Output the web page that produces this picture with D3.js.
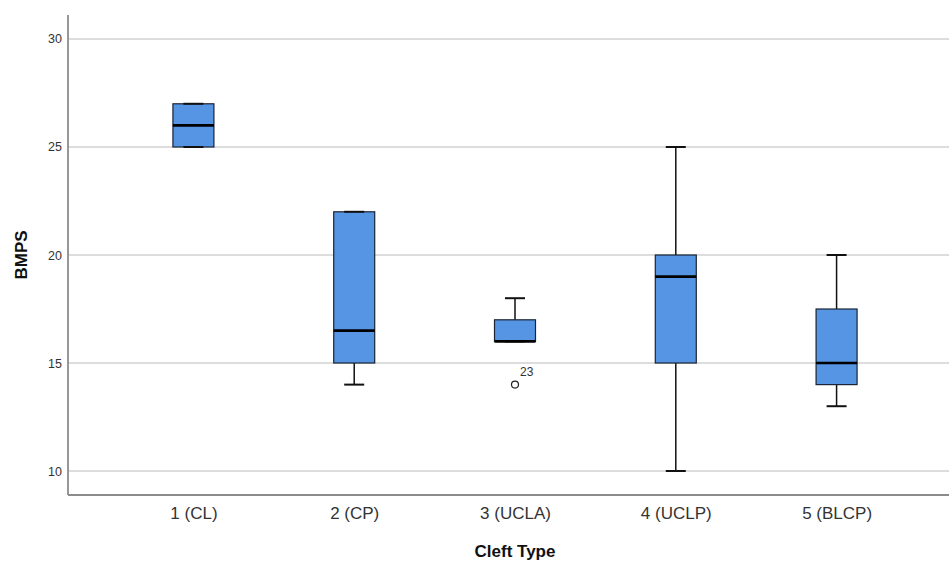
<!DOCTYPE html>
<html>
<head>
<meta charset="utf-8">
<script src="https://cdn.jsdelivr.net/npm/d3@7"></script>
<style>
  body { margin: 0; background: #fff; }
  svg { display: block; }
</style>
</head>
<body>
<svg id="chart" width="949" height="567"></svg>
<script>
// box plot summary per cleft type
const categories = ["1 (CL)", "2 (CP)", "3 (UCLA)", "4 (UCLP)", "5 (BLCP)"];
const whiskerLow  = [25, 14, 16, 10, 13];
const q1          = [25, 15, 16, 15, 14];
const medians     = [26, 16.5, 16, 19, 15];
const q3          = [27, 22, 17, 20, 17.5];
const whiskerHigh = [27, 22, 18, 25, 20];
const outlierCats   = ["3 (UCLA)"];
const outlierValues = [14];
const outlierLabels = ["23"];
const yTicks = [10, 15, 20, 25, 30];

let width = 949, height = 567,
  margin = {top: 15, right: 0, bottom: 72, left: 68},
  svg = d3.select('#chart');

let boxes = categories.map((c, i) => ({
  cat: c, lo: whiskerLow[i], q1: q1[i], med: medians[i], q3: q3[i], hi: whiskerHigh[i]
}));

var x = d3.scalePoint()
    .domain(categories)
    .range([margin.left, 962])
    .padding(0.78);

var y = d3.scaleLinear()
    .domain([8.89, 31.11])
    .range([height - margin.bottom, margin.top]);

let boxW = 41, capW = 20;

// gridlines
svg.append('g')
  .selectAll('line')
  .data(yTicks)
  .enter()
  .append('line')
    .attr('x1', margin.left)
    .attr('x2', width)
    .attr('y1', d => y(d))
    .attr('y2', d => y(d))
    .attr('stroke', '#d2d2d2')
    .attr('stroke-width', 1.5);

// y axis
var gY = svg.append('g')
    .attr('transform', 'translate(' + margin.left + ',0)')
    .call(d3.axisLeft(y).tickValues(yTicks).tickSize(0).tickPadding(6).tickFormat(d3.format('d')));
gY.select('.domain').remove();
gY.selectAll('text')
    .attr('font-family', 'Liberation Sans, Arial, sans-serif')
    .attr('font-size', 12.5)
    .attr('fill', '#333');

// x axis
var gX = svg.append('g')
    .attr('transform', 'translate(0,' + (height - margin.bottom) + ')')
    .call(d3.axisBottom(x).tickSize(0).tickPadding(12));
gX.select('.domain').remove();
gX.selectAll('text')
    .attr('font-family', 'Liberation Sans, Arial, sans-serif')
    .attr('font-size', 17)
    .attr('fill', '#333');

// axis lines
svg.append('line')
    .attr('x1', margin.left).attr('x2', margin.left)
    .attr('y1', margin.top).attr('y2', height - margin.bottom)
    .attr('stroke', '#8c8c8c').attr('stroke-width', 1.8);
svg.append('line')
    .attr('x1', margin.left).attr('x2', width)
    .attr('y1', height - margin.bottom).attr('y2', height - margin.bottom)
    .attr('stroke', '#8c8c8c').attr('stroke-width', 1.8);

// boxes
var g = svg.append('g').selectAll('g')
    .data(boxes)
    .enter()
    .append('g');

// whiskers
g.append('line')
    .attr('x1', d => x(d.cat)).attr('x2', d => x(d.cat))
    .attr('y1', d => y(d.hi)).attr('y2', d => y(d.q3))
    .attr('stroke', '#111').attr('stroke-width', 1.5);
g.append('line')
    .attr('x1', d => x(d.cat)).attr('x2', d => x(d.cat))
    .attr('y1', d => y(d.q1)).attr('y2', d => y(d.lo))
    .attr('stroke', '#111').attr('stroke-width', 1.5);

g.append('rect')
    .attr('x', d => x(d.cat) - boxW / 2)
    .attr('y', d => y(d.q3))
    .attr('width', boxW)
    .attr('height', d => y(d.q1) - y(d.q3))
    .attr('fill', '#5595e4')
    .attr('stroke', '#1a2433')
    .attr('stroke-width', 1.2);

// caps
g.append('line')
    .attr('x1', d => x(d.cat) - capW / 2).attr('x2', d => x(d.cat) + capW / 2)
    .attr('y1', d => y(d.hi)).attr('y2', d => y(d.hi))
    .attr('stroke', '#111').attr('stroke-width', 2);
g.append('line')
    .attr('x1', d => x(d.cat) - capW / 2).attr('x2', d => x(d.cat) + capW / 2)
    .attr('y1', d => y(d.lo)).attr('y2', d => y(d.lo))
    .attr('stroke', '#111').attr('stroke-width', 2);

// median
g.append('line')
    .attr('x1', d => x(d.cat) - boxW / 2).attr('x2', d => x(d.cat) + boxW / 2)
    .attr('y1', d => y(d.med)).attr('y2', d => y(d.med))
    .attr('stroke', '#000').attr('stroke-width', 2.6);

// outliers
outlierCats.forEach((c, i) => {
  svg.append('circle')
      .attr('cx', x(c))
      .attr('cy', y(outlierValues[i]))
      .attr('r', 3.5)
      .attr('fill', 'none')
      .attr('stroke', '#222')
      .attr('stroke-width', 1.2);
  svg.append('text')
      .attr('x', x(c) + 5)
      .attr('y', y(outlierValues[i]) - 9)
      .attr('font-family', 'Liberation Sans, Arial, sans-serif')
      .attr('font-size', 12)
      .attr('fill', '#333')
      .text(outlierLabels[i]);
});

// axis titles
svg.append('text')
    .attr('x', (margin.left + 962) / 2 - 0)
    .attr('y', 557)
    .attr('text-anchor', 'middle')
    .attr('font-family', 'Liberation Sans, Arial, sans-serif')
    .attr('font-size', 17)
    .attr('font-weight', 'bold')
    .attr('fill', '#111')
    .text('Cleft Type');

svg.append('text')
    .attr('transform', 'translate(27,' + 255 + ') rotate(-90)')
    .attr('text-anchor', 'middle')
    .attr('font-family', 'Liberation Sans, Arial, sans-serif')
    .attr('font-size', 17)
    .attr('font-weight', 'bold')
    .attr('fill', '#111')
    .text('BMPS');
</script>
</body>
</html>
